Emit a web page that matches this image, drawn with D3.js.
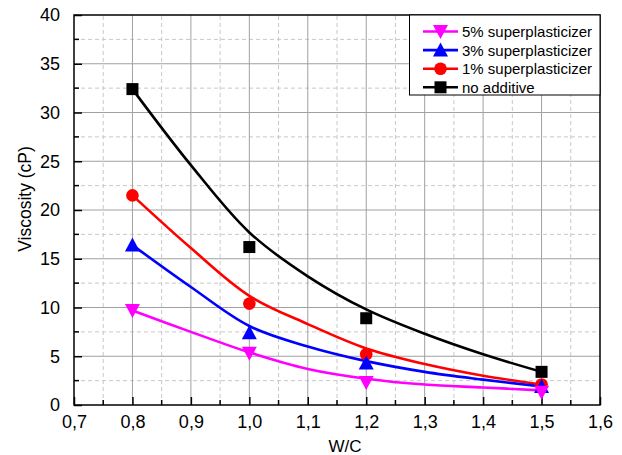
<!DOCTYPE html>
<html>
<head>
<meta charset="utf-8">
<script src="https://cdn.jsdelivr.net/npm/d3@7"></script>
<style>
  body { margin: 0; background: #fff; }
  svg { font-family: "Liberation Sans", Arial, sans-serif; }
</style>
</head>
<body>
<div id="chart"></div>
<script>
// measured points
const wc = [0.8, 1.0, 1.2, 1.5];
const noAdditive = [32.4, 16.2, 8.9, 3.4];
const sp1 = [21.5, 10.4, 5.2, 2.1];
const sp3 = [16.4, 7.4, 4.3, 1.9];
const sp5 = [9.7, 5.3, 2.3, 1.3];

// fitted curves, every 0.1
const fitX = [0.8, 0.9, 1.0, 1.1, 1.2, 1.3, 1.4, 1.5];
const fitNoAdditive = [32.4, 24.6, 17.7, 13.2, 9.8, 7.3, 5.2, 3.4];
const fitSp1 = [21.5, 16.1, 11.2, 8.3, 5.8, 4.2, 3.0, 2.1];
const fitSp3 = [16.4, 12.1, 8.1, 6.0, 4.5, 3.4, 2.6, 1.9];
const fitSp5 = [9.7, 7.5, 5.4, 3.7, 2.7, 2.1, 1.8, 1.5];

const xTicks = [0.7, 0.8, 0.9, 1.0, 1.1, 1.2, 1.3, 1.4, 1.5, 1.6];
const yTicks = [0, 5, 10, 15, 20, 25, 30, 35, 40];

const series = [
  { name: "5% superplasticizer", color: "#ff00ff", symbol: "down", y: sp5, fit: fitSp5 },
  { name: "3% superplasticizer", color: "#0000ff", symbol: "up", y: sp3, fit: fitSp3 },
  { name: "1% superplasticizer", color: "#ff0000", symbol: "circle", y: sp1, fit: fitSp1 },
  { name: "no additive", color: "#000000", symbol: "square", y: noAdditive, fit: fitNoAdditive }
];

const width = 622, height = 455;
const margin = { top: 15, right: 22, bottom: 50, left: 74 };

const svg = d3.select("#chart").append("svg")
  .attr("width", width)
  .attr("height", height);

const x = d3.scaleLinear().domain([0.7, 1.6]).range([margin.left, width - margin.right]);
const y = d3.scaleLinear().domain([0, 40]).range([height - margin.bottom, margin.top]);

const x0 = x.range()[0], x1 = x.range()[1];
const y0 = y.range()[0], y1 = y.range()[1];

// minor grid (dashed)
const xMinor = d3.range(0.75, 1.6, 0.1);
const yMinor = d3.range(2.5, 40, 5);
svg.append("g").selectAll("line").data(xMinor).join("line")
  .attr("x1", d => x(d)).attr("x2", d => x(d)).attr("y1", y0).attr("y2", y1)
  .attr("stroke", "#c8c8c8").attr("stroke-dasharray", "4,3");
svg.append("g").selectAll("line").data(yMinor).join("line")
  .attr("y1", d => y(d)).attr("y2", d => y(d)).attr("x1", x0).attr("x2", x1)
  .attr("stroke", "#c8c8c8").attr("stroke-dasharray", "4,3");

// major grid
svg.append("g").selectAll("line").data(xTicks.slice(1, -1)).join("line")
  .attr("x1", d => x(d)).attr("x2", d => x(d)).attr("y1", y0).attr("y2", y1)
  .attr("stroke", "#a0a0a0");
svg.append("g").selectAll("line").data(yTicks.slice(1, -1)).join("line")
  .attr("y1", d => y(d)).attr("y2", d => y(d)).attr("x1", x0).attr("x2", x1)
  .attr("stroke", "#a0a0a0");

// axes with inward ticks
const fmtX = d => d.toFixed(1).replace(".", ",");
const xAxis = svg.append("g").attr("transform", `translate(0,${y0})`)
  .call(d3.axisBottom(x).tickValues(xTicks).tickFormat(fmtX).tickSizeInner(-8).tickSizeOuter(0).tickPadding(10));
const yAxis = svg.append("g").attr("transform", `translate(${x0},0)`)
  .call(d3.axisLeft(y).tickValues(yTicks).tickSizeInner(-8).tickSizeOuter(0).tickPadding(14));
[xAxis, yAxis].forEach(g => {
  g.attr("font-size", 18).attr("font-family", "Liberation Sans, Arial, sans-serif");
  g.select(".domain").remove();
  g.selectAll("text").attr("fill", "#000");
  g.selectAll("line").attr("stroke", "#000").attr("stroke-width", 1.5);
});
svg.append("g").selectAll("line").data(xMinor).join("line")
  .attr("x1", d => x(d)).attr("x2", d => x(d)).attr("y1", y0).attr("y2", y0 - 5)
  .attr("stroke", "#000").attr("stroke-width", 1.5);
svg.append("g").selectAll("line").data(yMinor).join("line")
  .attr("y1", d => y(d)).attr("y2", d => y(d)).attr("x1", x0).attr("x2", x0 + 5)
  .attr("stroke", "#000").attr("stroke-width", 1.5);

// frame
svg.append("rect").attr("x", x0).attr("y", y1).attr("width", x1 - x0).attr("height", y0 - y1)
  .attr("fill", "none").attr("stroke", "#000").attr("stroke-width", 1.5);

// axis titles
svg.append("text").attr("x", 345).attr("y", 451.5).attr("text-anchor", "middle")
  .attr("font-size", 17).text("W/C");
svg.append("text").attr("transform", "translate(31,199) rotate(-90)")
  .attr("text-anchor", "middle").attr("font-size", 17.5).text("Viscosity (cP)");

function symbolPath(sym) {
  if (sym === "square") return d3.symbol(d3.symbolSquare, 144)();
  if (sym === "circle") return d3.symbol(d3.symbolCircle, 125)();
  if (sym === "up") return "M0,-7.5L7.5,6.5L-7.5,6.5Z";
  return "M0,7.5L7.5,-6.5L-7.5,-6.5Z";
}

const line = d3.line().x(d => x(d[0])).y(d => y(d[1])).curve(d3.curveCatmullRom.alpha(0.5));

// draw back to front: black first
const order = series.slice().reverse();
order.forEach(s => {
  svg.append("path")
    .datum(fitX.map((v, i) => [v, s.fit[i]]))
    .attr("d", line).attr("fill", "none").attr("stroke", s.color).attr("stroke-width", 2.6);
});
order.forEach(s => {
  svg.append("g").selectAll("path").data(wc.map((v, i) => [v, s.y[i]])).join("path")
    .attr("d", symbolPath(s.symbol))
    .attr("transform", d => `translate(${x(d[0])},${y(d[1])})`)
    .attr("fill", s.color);
});

// legend
const lg = svg.append("g");
lg.append("rect").attr("x", 409.5).attr("y", y1).attr("width", x1 - 409.5).attr("height", 80)
  .attr("fill", "#fff").attr("stroke", "#000").attr("stroke-width", 1);
series.forEach((s, i) => {
  const cy = 31.5 + i * 18.6;
  lg.append("line").attr("x1", 423).attr("x2", 458).attr("y1", cy).attr("y2", cy)
    .attr("stroke", s.color).attr("stroke-width", 2.6);
  lg.append("path").attr("d", symbolPath(s.symbol))
    .attr("transform", `translate(440.5,${cy})`)
    .attr("fill", s.color);
  lg.append("text").attr("x", 462).attr("y", cy + 5.5).attr("font-size", 15).text(s.name);
});
</script>
</body>
</html>
